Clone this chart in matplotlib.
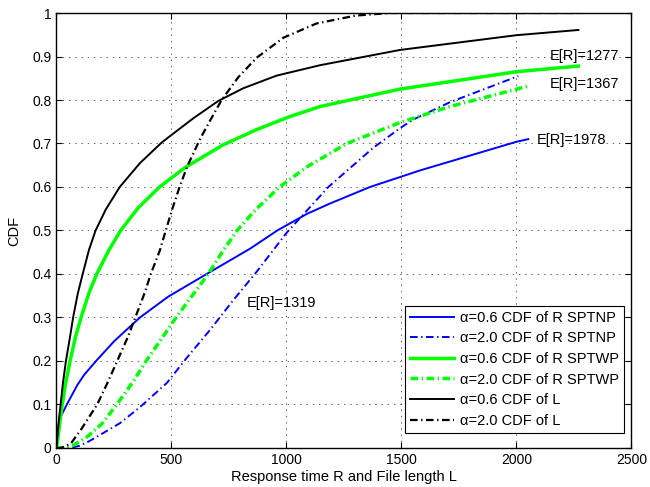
import matplotlib
matplotlib.use('Agg')
import matplotlib.pyplot as plt

plt.rcParams['font.family'] = ['Liberation Sans', 'DejaVu Sans']
plt.rcParams['lines.scale_dashes'] = False

# SPTNP, alpha=0.6 / 2.0
np06_x = [0, 1, 4, 18, 45, 91, 120, 172, 250, 305, 363, 486, 653, 841, 960, 1088, 1189, 1363, 1580, 2000, 2051]
np06_y = [0, 0.03, 0.041, 0.072, 0.1, 0.145, 0.168, 0.2, 0.245, 0.272, 0.3, 0.348, 0.4, 0.458, 0.5, 0.538, 0.562, 0.6, 0.638, 0.704, 0.71]
np20_x = [0, 60, 100, 140, 189, 276, 363, 479, 566, 667, 769, 870, 1001, 1182, 1377, 1493, 1551, 1711, 2008]
np20_y = [0, 0, 0.005, 0.015, 0.03, 0.057, 0.094, 0.149, 0.207, 0.271, 0.34, 0.405, 0.495, 0.6, 0.69, 0.735, 0.755, 0.795, 0.855]

# SPTWP, alpha=0.6 / 2.0
wp06_x = [0, 7, 14, 25, 40, 59, 83, 108, 141, 175, 228, 279, 355, 448, 560, 725, 870, 1015, 1146, 1493, 2000, 2269]
wp06_y = [0, 0.026, 0.057, 0.1, 0.149, 0.2, 0.256, 0.302, 0.356, 0.4, 0.455, 0.5, 0.552, 0.6, 0.645, 0.697, 0.732, 0.762, 0.785, 0.825, 0.865, 0.878]
wp20_x = [0, 40, 76, 134, 200, 262, 330, 390, 455, 520, 590, 660, 720, 785, 870, 970, 1088, 1262, 1493, 1711, 2059]
wp20_y = [0, 0, 0.007, 0.026, 0.057, 0.1, 0.15, 0.2, 0.25, 0.3, 0.35, 0.4, 0.45, 0.5, 0.55, 0.6, 0.646, 0.7, 0.748, 0.785, 0.833]

# file length L, alpha=0.6 / 2.0
l06_x = [0, 4, 9, 18, 28, 41, 59, 73, 93, 114, 141, 170, 214, 275, 363, 457, 501, 595, 704, 812, 957, 1146, 1493, 2000, 2269]
l06_y = [0, 0.026, 0.057, 0.1, 0.149, 0.2, 0.256, 0.302, 0.356, 0.4, 0.455, 0.5, 0.548, 0.6, 0.655, 0.702, 0.72, 0.758, 0.798, 0.827, 0.856, 0.88, 0.915, 0.949, 0.961]
l20_x = [0, 18, 62, 105, 177, 221, 264, 311, 344, 383, 410, 450, 475, 505, 535, 569, 624, 667, 718, 790, 870, 986, 1131, 1300, 1450, 2269]
l20_y = [0, 0, 0.01, 0.041, 0.1, 0.149, 0.2, 0.256, 0.302, 0.356, 0.4, 0.455, 0.5, 0.552, 0.6, 0.648, 0.71, 0.752, 0.8, 0.852, 0.897, 0.943, 0.976, 0.994, 1.0, 1.0]

labels = ['\u03b1=0.6 CDF of R SPTNP', '\u03b1=2.0 CDF of R SPTNP',
          '\u03b1=0.6 CDF of R SPTWP', '\u03b1=2.0 CDF of R SPTWP',
          '\u03b1=0.6 CDF of L', '\u03b1=2.0 CDF of L']

er_text = ['E[R]=1277', 'E[R]=1367', 'E[R]=1978', 'E[R]=1319']
er_pos = [(2143, 0.902), (2143, 0.836), (2088, 0.708), (827, 0.333)]

xticks = [0, 500, 1000, 1500, 2000, 2500]
yticks = [0, 0.1, 0.2, 0.3, 0.4, 0.5, 0.6, 0.7, 0.8, 0.9, 1]
ytick_labels = ['0', '0.1', '0.2', '0.3', '0.4', '0.5', '0.6', '0.7', '0.8', '0.9', '1']

dashdot = (0, (5.5, 2.5, 1, 2.5))

fig = plt.figure(figsize=(6.5, 4.87), dpi=100)
ax = fig.add_axes([0.0869, 0.0801, 0.8846, 0.8932])

ax.plot(np06_x, np06_y, color='#0000ff', lw=1.4, label=labels[0])
ax.plot(np20_x, np20_y, color='#0000ff', lw=1.4, ls=dashdot, label=labels[1])
ax.plot(wp06_x, wp06_y, color='#00ff00', lw=2.5, label=labels[2])
ax.plot(wp20_x, wp20_y, color='#00ff00', lw=2.5, ls=dashdot, label=labels[3])
ax.plot(l06_x, l06_y, color='black', lw=1.4, label=labels[4])
ax.plot(l20_x, l20_y, color='black', lw=1.6, ls=dashdot, label=labels[5])

for t, (px, py) in zip(er_text, er_pos):
    ax.text(px, py, t, fontsize=10.5, ha='left', va='center')

ax.set_xlim(0, 2500)
ax.set_ylim(0, 1)
ax.set_xticks(xticks)
ax.set_yticks(yticks)
ax.set_yticklabels(ytick_labels)
ax.tick_params(direction='in', top=True, right=True, length=4, labelsize=10, width=0.8)
ax.grid(True, color='#444444', ls=(0, (1, 3.5)), lw=0.6)
for sp in ax.spines.values():
    sp.set_linewidth(1.0)

ax.set_xlabel('Response time R and File length L', fontsize=10.5, labelpad=2)
ax.set_ylabel('CDF', fontsize=10.5, labelpad=8)

leg = ax.legend(loc='lower right', bbox_to_anchor=(0.987, 0.035), borderaxespad=0,
                fontsize=10.5, fancybox=False, framealpha=1, edgecolor='black',
                handlelength=3.0, handletextpad=0.4, labelspacing=0.45, borderpad=0.35)
leg.get_frame().set_linewidth(0.8)

plt.savefig('out.png', dpi=100)
plt.close()
